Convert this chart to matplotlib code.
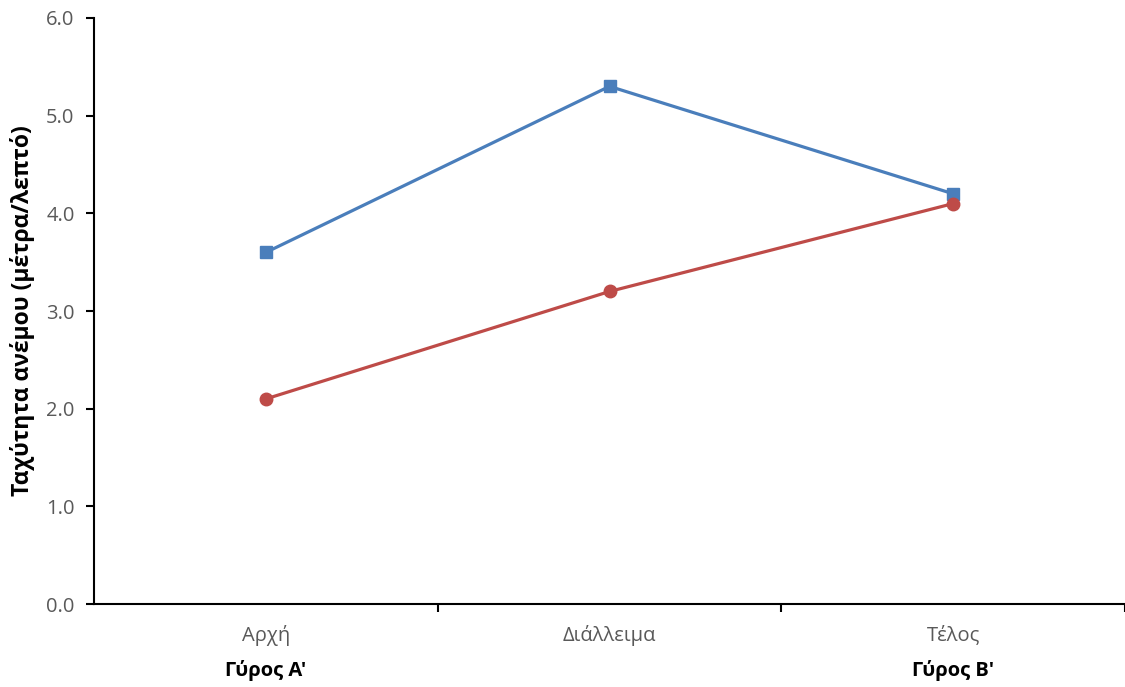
import numpy as np
import matplotlib.pyplot as plt

plt.rcParams['font.family'] = ['Open Sans', 'DejaVu Sans']

categories = ['Αρχή', 'Διάλλειμα', 'Τέλος']
rounds = ['Γύρος Α\'', '', 'Γύρος Β\'']
blue_vals = [3.6, 5.3, 4.2]
red_vals = [2.1, 3.2, 4.1]
y_ticks = [0.0, 1.0, 2.0, 3.0, 4.0, 5.0, 6.0]

fig = plt.figure(figsize=(11.25, 6.87), dpi=100)
ax = fig.add_axes([0.0836, 0.1208, 0.9164, 0.853])

x = np.arange(len(categories))
ax.plot(x, blue_vals, color='#4a7ebb', lw=2.3, marker='s', ms=9, zorder=3)
ax.plot(x, red_vals, color='#be4b48', lw=2.3, marker='o', ms=9, zorder=3)

ax.set_xlim(-0.5, 2.5)
ax.set_ylim(0, 6)
ax.set_yticks(y_ticks)
ax.set_yticklabels(['%.1f' % v for v in y_ticks], color='#595959', fontsize=14.5)

# category boundaries get the ticks, names sit in the middle
ax.set_xticks([0.5, 1.5, 2.5])
ax.set_xticklabels([])
ax.set_xticks(x, minor=True)
ax.set_xticklabels(categories, minor=True, color='#595959', fontsize=14.5)
ax.tick_params(axis='x', which='minor', length=0, pad=15)
ax.tick_params(axis='x', which='major', length=6, width=1.5, direction='out')
ax.tick_params(axis='y', length=6, width=1.5, direction='out', pad=8)

trans = ax.get_xaxis_transform()
for xi, r in zip(x, rounds):
    if r:
        ax.text(xi, -0.113, r, transform=trans, ha='center', va='center',
                fontsize=14.5, fontweight='bold', color='black')

for s in ['top', 'right']:
    ax.spines[s].set_visible(False)
for s in ['left', 'bottom']:
    ax.spines[s].set_linewidth(1.5)
    ax.spines[s].set_color('black')

ax.set_ylabel('Ταχύτητα ανέμου (μέτρα/λεπτό)', fontsize=16.5, fontweight='bold', labelpad=8)

fig.savefig('out.png', dpi=100)
